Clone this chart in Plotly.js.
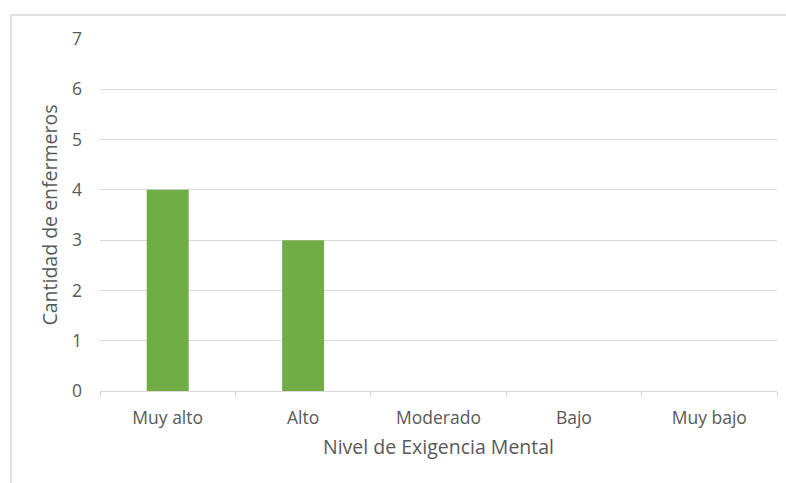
<!DOCTYPE html>
<html>
<head>
<meta charset="utf-8">
<script src="https://cdn.plot.ly/plotly-3.0.1.min.js"></script>
<style>
  html, body { margin: 0; padding: 0; background: #ffffff; }
  #chart { width: 786px; height: 483px; }
</style>
</head>
<body>
<div id="chart"></div>
<script>
// Nivel de exigencia mental reportado por el personal de enfermería
const niveles = ["Muy alto", "Alto", "Moderado", "Bajo", "Muy bajo"];
const enfermeros = [4, 3, 0, 0, 0];
const yTicks = [0, 1, 2, 3, 4, 5, 6, 7];

const textColor = "#595959";
const gridColor = "#D9D9D9";
const fontFamily = "'Open Sans', Lato, sans-serif";

const trace = {
  type: "bar",
  x: niveles,
  y: enfermeros,
  marker: { color: "#70AD47" },
  hoverinfo: "x+y"
};

const layout = {
  width: 786,
  height: 483,
  margin: { l: 100, r: 9, t: 39, b: 92 },
  paper_bgcolor: "#ffffff",
  plot_bgcolor: "#ffffff",
  showlegend: false,
  bargap: 0.69,
  font: { family: fontFamily, color: textColor, size: 17 },
  xaxis: {
    type: "category",
    tickson: "boundaries",
    ticks: "outside",
    ticklen: 5,
    tickcolor: gridColor,
    showline: true,
    linecolor: gridColor,
    linewidth: 1,
    showgrid: false,
    ticklabelstandoff: 11,
    tickfont: { size: 17.5, color: textColor },
    title: { text: "Nivel de Exigencia Mental", font: { size: 19.5, color: textColor }, standoff: 12 }
  },
  yaxis: {
    range: [0, 7],
    tickvals: yTicks,
    ticktext: yTicks.map(String),
    showline: false,
    zeroline: false,
    showgrid: true,
    gridcolor: gridColor,
    gridwidth: 1,
    ticks: "",
    ticklabelstandoff: 17,
    tickfont: { size: 17.5, color: textColor },
    title: { text: "Cantidad de enfermeros", font: { size: 19.5, color: textColor }, standoff: 9 }
  },
  shapes: [
    {
      type: "rect",
      xref: "paper", yref: "paper",
      x0: -0.1315, x1: 1.2,
      y0: -0.5, y1: 1.068,
      line: { color: gridColor, width: 1.5 },
      fillcolor: "rgba(0,0,0,0)",
      layer: "below"
    }
  ]
};

Plotly.newPlot("chart", [trace], layout, { displayModeBar: false, staticPlot: true });
</script>
</body>
</html>
